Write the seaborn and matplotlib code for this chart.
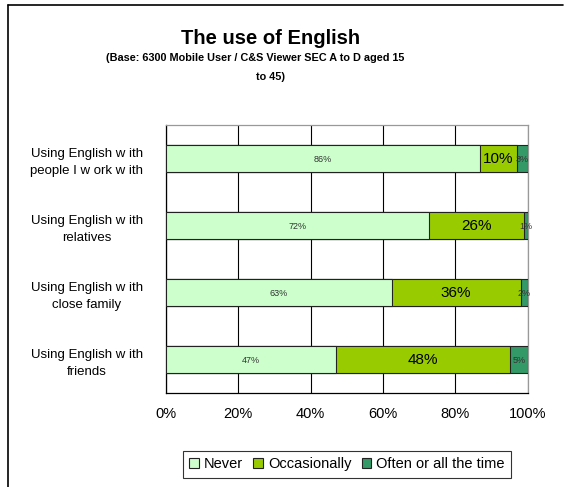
import numpy as np
import pandas as pd
import seaborn as sns
import matplotlib.pyplot as plt
from matplotlib.patches import Patch
from matplotlib.lines import Line2D
from matplotlib.ticker import FixedLocator

categories = ["Using English w ith\npeople I w ork w ith",
              "Using English w ith\nrelatives",
              "Using English w ith\nclose family",
              "Using English w ith\nfriends"]
never = [86, 72, 63, 47]
occasionally = [10, 26, 36, 48]
often = [3, 1, 2, 5]
series_names = ["Never", "Occasionally", "Often or all the time"]
colors = ["#CCFFCC", "#99CC00", "#339966"]

sns.set_style("white")
plt.rcParams["font.family"] = ["Liberation Sans", "DejaVu Sans"]
plt.rcParams["text.color"] = "black"
plt.rcParams["xtick.color"] = "black"
plt.rcParams["ytick.color"] = "black"

raw = np.array([never, occasionally, often], dtype=float)
share = raw / raw.sum(axis=0) * 100
cum = np.cumsum(share, axis=0)

fig = plt.figure(figsize=(5.7, 4.87), dpi=100)
ax = fig.add_axes([0.291, 0.193, 0.635, 0.550])

# draw cumulative bars from the back to the front
for i in [2, 1, 0]:
    df = pd.DataFrame({"cat": categories, "val": cum[i]})
    sns.barplot(data=df, x="val", y="cat", color=colors[i], saturation=1,
                width=0.4, edgecolor="#222222", linewidth=0.8, ax=ax, zorder=3)

# value labels
for j in range(len(categories)):
    for i in range(3):
        start = cum[i][j] - share[i][j]
        xc = start + share[i][j] / 2
        if i == 1:
            ax.text(xc, j, f"{int(raw[i][j])}%", ha="center", va="center",
                    fontsize=11, color="black", zorder=5)
        else:
            ax.text(xc, j + 0.02, f"{int(raw[i][j])}%", ha="center", va="center",
                    fontsize=6.5, color="#333333", zorder=5)

ax.set_xlim(0, 100)
ax.set_ylim(3.5, -0.5)
ax.set_xticks([0, 20, 40, 60, 80, 100])
ax.set_xticklabels(["0%", "20%", "40%", "60%", "80%", "100%"], fontsize=10.5)
ax.set_xlabel("")
ax.set_ylabel("")
ax.tick_params(axis="y", labelsize=9.5, length=0, pad=0, labelcolor="black")
ax.yaxis.set_minor_locator(FixedLocator([-0.5, 0.5, 1.5, 2.5, 3.5]))
ax.tick_params(axis="y", which="minor", length=4, direction="out", color="black", width=0.8)
ax.tick_params(axis="x", length=4, direction="out", color="black", width=0.8, pad=6,
               labelcolor="black")
for lbl in ax.get_yticklabels():
    lbl.set_horizontalalignment("center")
    lbl.set_x(-0.218)
    lbl.set_linespacing(1.55)

ax.xaxis.grid(True, color="black", linewidth=0.8, zorder=0)
ax.set_axisbelow(True)
ax.spines["left"].set_color("black")
ax.spines["bottom"].set_color("black")
ax.spines["top"].set_color("#999999")
ax.spines["right"].set_color("#999999")
for s in ax.spines.values():
    s.set_linewidth(0.9)

fig.text(0.475, 0.92, "The use of English", ha="center", va="center",
         fontsize=14.5, fontweight="bold", color="black")
fig.text(0.447, 0.881, "(Base: 6300 Mobile User / C&S Viewer SEC A to D aged 15",
         ha="center", va="center", fontsize=7.8, fontweight="bold", color="black")
fig.text(0.474, 0.842, "to 45)", ha="center", va="center", fontsize=7.8,
         fontweight="bold", color="black")

handles = [Patch(facecolor=c, edgecolor="#222222", linewidth=0.8) for c in colors]
leg = fig.legend(handles, series_names, loc="center", bbox_to_anchor=(0.609, 0.047),
                 ncol=3, frameon=True, fancybox=False, fontsize=10.5,
                 handlelength=0.65, handleheight=0.65, handletextpad=0.35,
                 columnspacing=0.7, borderpad=0.45, labelcolor="black")
leg.get_frame().set_edgecolor("black")
leg.get_frame().set_linewidth(0.8)

fig.add_artist(Line2D([0.014, 0.014], [0.0, 0.99], color="black", linewidth=1.2))
fig.add_artist(Line2D([0.014, 0.988], [0.99, 0.99], color="black", linewidth=1.2))

fig.savefig("out.png", dpi=100)
